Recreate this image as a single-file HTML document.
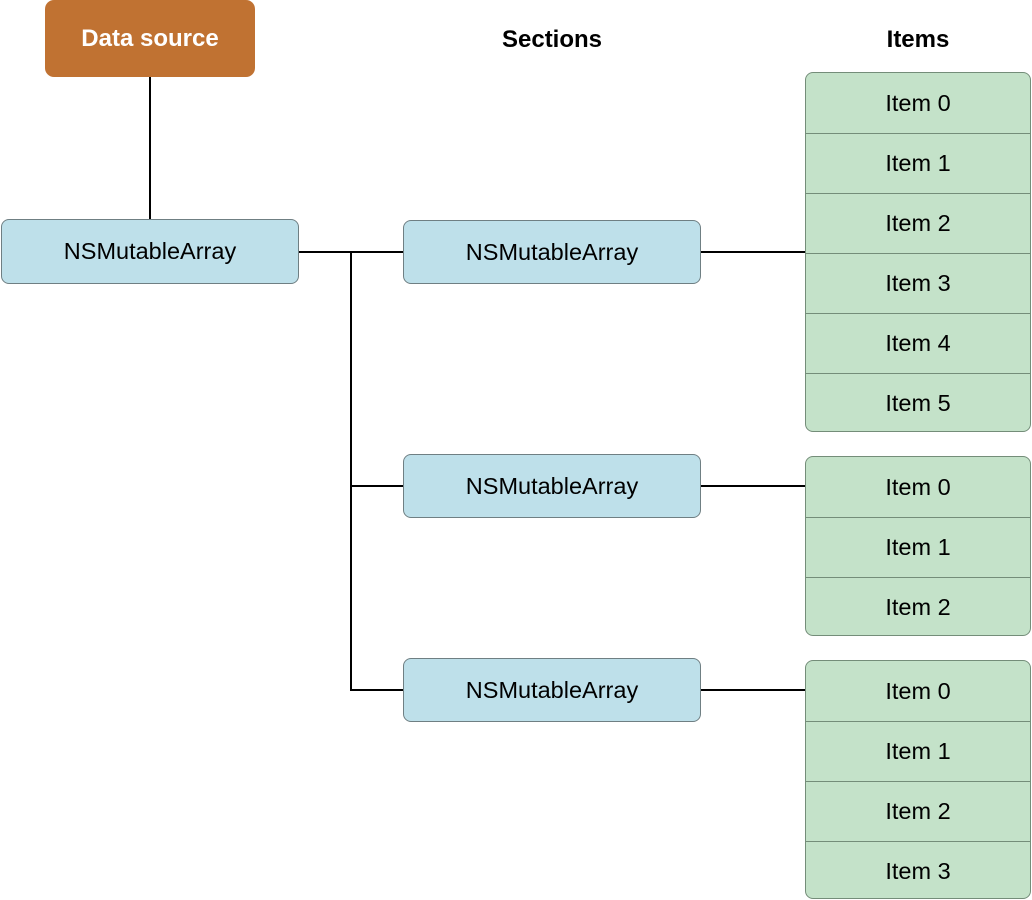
<!DOCTYPE html>
<html><head><style>
body{margin:0;width:1032px;height:900px;background:#fff;position:relative;font-family:"Liberation Sans",sans-serif;overflow:hidden}
.a{position:absolute;box-sizing:border-box}
.b{background:#bee0ea;border:1.5px solid #6f7f83;border-radius:8px;display:flex;align-items:center;justify-content:center;font-size:23.5px;color:#000}
.g{background:#c4e2c9;border:1.5px solid #748d79;border-radius:8px;overflow:hidden}
.g div{height:60px;display:flex;align-items:center;justify-content:center;font-size:23.5px;color:#000;border-top:1.5px solid #748d79;box-sizing:border-box}
.g div:first-child{border-top:none}
.l{position:absolute;background:#000}
.h{position:absolute;font-weight:bold;font-size:24px;transform:translateX(-50%)}
</style></head><body>
<div class="a" style="left:45px;top:0;width:210px;height:77px;background:#c07232;border-radius:9px;color:#fff;font-weight:bold;font-size:24px;display:flex;align-items:center;justify-content:center">Data source</div>
<div class="h" style="left:552px;top:26px">Sections</div>
<div class="h" style="left:918px;top:26px">Items</div>
<div class="l" style="left:149px;top:77px;width:2px;height:143px"></div>
<div class="l" style="left:299px;top:251px;width:104px;height:2px"></div>
<div class="l" style="left:350px;top:251px;width:2px;height:440px"></div>
<div class="l" style="left:350px;top:485px;width:53px;height:2px"></div>
<div class="l" style="left:350px;top:689px;width:53px;height:2px"></div>
<div class="l" style="left:701px;top:251px;width:104px;height:2px"></div>
<div class="l" style="left:701px;top:485px;width:104px;height:2px"></div>
<div class="l" style="left:701px;top:689px;width:104px;height:2px"></div>
<div class="a b" style="left:1px;top:219px;width:298px;height:65px">NSMutableArray</div>
<div class="a b" style="left:403px;top:220px;width:298px;height:64px">NSMutableArray</div>
<div class="a b" style="left:403px;top:454px;width:298px;height:64px">NSMutableArray</div>
<div class="a b" style="left:403px;top:658px;width:298px;height:64px">NSMutableArray</div>
<div class="a g" style="left:805px;top:72px;width:226px;height:360px"><div>Item 0</div><div>Item 1</div><div>Item 2</div><div>Item 3</div><div>Item 4</div><div>Item 5</div></div>
<div class="a g" style="left:805px;top:456px;width:226px;height:180px"><div>Item 0</div><div>Item 1</div><div>Item 2</div></div>
<div class="a g" style="left:805px;top:660px;width:226px;height:239px"><div>Item 0</div><div>Item 1</div><div>Item 2</div><div>Item 3</div></div>
</body></html>
